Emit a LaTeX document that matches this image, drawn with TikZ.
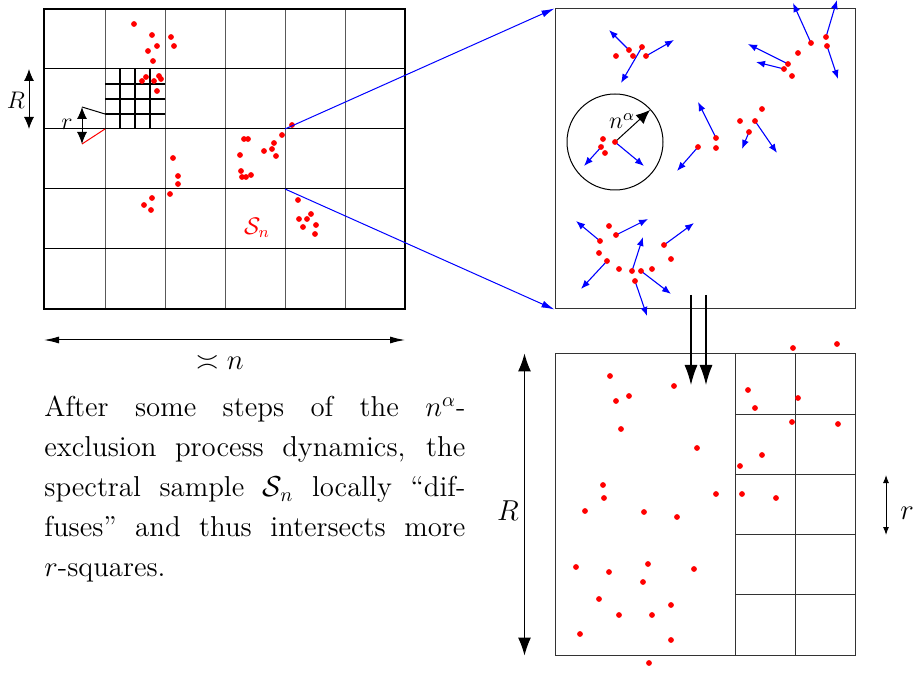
\documentclass[tikz,border=0pt]{standalone}
\usetikzlibrary{positioning,arrows.meta}

\begin{document}
\begin{tikzpicture}[
  x=0.5pt, y=-0.5pt,
  gridline/.style={line width=0.5pt},
  vline/.style={line width=0.5pt, black!65},
  fine/.style={line width=1pt},
  zoomline/.style={blue, line width=0.5pt, -{Latex[length=6.5pt,width=3.5pt]}},
  move/.style={blue, line width=0.55pt, -{Latex[length=4.5pt,width=3.5pt]}},
  spot/.style={red},
  scalebar/.style={line width=0.5pt, {Latex[length=6pt,width=5pt]}-{Latex[length=6pt,width=5pt]}},
  bigbar/.style={line width=0.5pt, {Latex[length=9pt,width=6.5pt]}-{Latex[length=9pt,width=6.5pt]}},
  box/.style={draw=black!80, line width=0.5pt, inner sep=0pt, minimum width=150pt, minimum height=150pt},
  label/.style={font=\Large, inner sep=1pt},
]
  \useasboundingbox (0,0) rectangle (915,673);

  % coarse grid of R-squares
  \foreach \x in {105,165,...,345} \draw[vline] (\x,9) -- (\x,309);
  \foreach \y in {69,129,...,249} \draw[gridline] (44,\y) -- (405,\y);
  \draw[line width=1pt] (44,9) rectangle (405,309);
  % one R-square cut into r-squares
  \foreach \x in {120,135,150} \draw[fine] (\x,69) -- (\x,129);
  \foreach \y in {84,99,114} \draw[fine] (105,\y) -- (165,\y);

  \coordinate (rtop) at (82,107);
  \coordinate (rbot) at (82,144);
  \draw[gridline] (rtop) -- (105,114);
  \draw[gridline, red] (rbot) -- (105,129);
  \draw[scalebar] (rtop) -- (rbot);
  \node[inner sep=1pt, font=\large] (rsmall) at (67,124) {$r$};
  \draw[scalebar] (29,69) -- (29,129);
  \node[inner sep=1pt, font=\large] (Rsmall) at (16,100) {$R$};

  % spectral sample
  \foreach \p in {(134,24),(152,35),(171,37),(157,46),(174,46),(148,51),(153,61),
                  (146,77),(142,81),(159,76),(161,79),(154,81),(157,91),
                  (173,158),(178,176),(178,184),(170,194),(152,198),(144,205),(151,210),
                  (292,125),(282,135),(244,139),(248,139),(274,143),(272,149),(264,151),
                  (240,155),(276,156),(241,171),(242,177),(246,177),(251,175),
                  (298,200),(299,219),(307,219),(311,214),(316,225),(303,227),(315,234)}
    \fill[spot] \p circle (1.45pt);
  \node[text=red, font=\large] (Sn) at (257,228) {$\mathcal{S}_n$};

  \draw[line width=0.5pt, {Latex[length=7.5pt,width=3.5pt]}-{Latex[length=7.5pt,width=3.5pt]}]
    (44,340) -- (405,340);
  \node[label] (size) at (220,363) {$\asymp n$};

  % zoomed window
  \node[box] (zoom) at (705,159) {};
  \coordinate (src1) at (285,129);
  \coordinate (src2) at (285,189);
  \draw[zoomline] (src1) -- (zoom.north west);
  \draw[zoomline] (src2) -- (zoom.south west);

  \draw[line width=0.5pt] (615,142) circle (24pt);
  \draw[line width=0.5pt, -{Latex[length=7pt,width=6pt]}] (615,142) -- (650,110);
  \node[font=\large, inner sep=0pt] (nalpha) at (622,121) {$n^\alpha$};

  \foreach \xa/\ya/\xb/\yb in {629/50/609/30, 642/47/621/83, 646/56/674/40,
                     811/43/793/3, 826/37/837/0, 827/46/838/79,
                     788/64/748/44, 784/69/756/62,
                     603/145/584/166, 615/142/644/166,
                     698/147/677/171, 716/138/698/102, 755/121/777/153, 749/132/742/149,
                     600/241/576/221, 616/235/648/219, 607/261/581/289, 632/271/643/237,
                     641/271/671/294, 635/281/647/316, 664/245/694/223}
    \draw[move] (\xa,\ya) -- (\xb,\yb);
  \foreach \p in {(616,56),(629,50),(633,56),(642,47),(646,56),
                  (811,43),(826,37),(827,46),(798,53),(788,64),(784,69),(792,76),
                  (603,139),(601,147),(605,153),(615,142),
                  (698,147),(716,138),(716,148),(740,121),(755,121),(762,109),(749,132),
                  (600,241),(609,226),(616,235),(599,253),(607,261),(619,269),(632,271),
                  (641,271),(652,269),(635,281),(664,245),(671,259)}
    \fill[spot] \p circle (1.45pt);

  % after the dynamics
  \node[box, minimum height=150.5pt] (after) at (705,504.5) {};
  \draw[black!80, line width=0.5pt] (735,354) -- (735,655);
  \draw[black!80, line width=0.5pt] (795,354) -- (795,655);
  \foreach \y in {414,474,...,594} \draw[black!80, line width=0.5pt] (735,\y) -- (855,\y);

  \coordinate (d1) at (691,295);
  \coordinate (d2) at (706,295);
  \draw[line width=0.6pt, -{Latex[length=10pt,width=6.5pt]}] (d1) -- (691,385);
  \draw[line width=0.6pt, -{Latex[length=10pt,width=6.5pt]}] (d2) -- (706,385);

  \draw[bigbar] (after.north west) ++(-30,0) coordinate (Rtop) -- (Rtop |- after.south west);
  \node[label] (Rbig) at (508,511) {$R$};
  \draw[line width=0.5pt, {Latex[length=4pt,width=3pt]}-{Latex[length=4pt,width=3pt]}]
    (886,475) -- (886,535);
  \node[label] (rbig) at (907,513) {$r$};

  \foreach \p in {(610,376),(674,386),(793,348),(837,344),(748,390),(798,398),
                  (629,396),(616,401),(755,408),(792,422),(838,424),(621,429),
                  (697,448),(762,455),(740,466),(603,485),(604,498),(716,494),
                  (742,494),(776,498),(585,511),(644,512),(677,517),(576,567),
                  (648,564),(609,572),(694,569),(643,582),(599,599),(671,605),
                  (619,615),(652,615),(580,634),(671,640),(649,663)}
    \fill[spot] \p circle (1.45pt);

  \node[anchor=north west, inner sep=0pt, text width=210.5pt, align=justify,
        font=\fontsize{14.4}{20}\selectfont] (caption) at (44,396)
    {After some steps of the $n^\alpha$-\linebreak exclusion process dynamics, the\linebreak
     spectral sample $\mathcal{S}_n$ locally ``dif-\linebreak fuses'' and thus intersects more\linebreak
     $r$-squares.};
\end{tikzpicture}
\end{document}
